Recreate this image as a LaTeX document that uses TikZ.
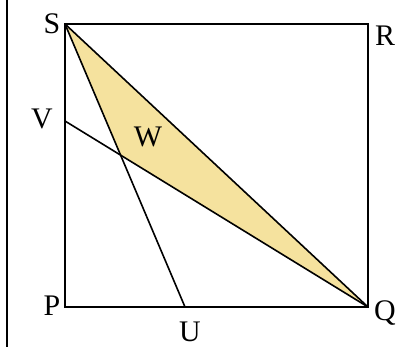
\documentclass[tikz,border=0pt]{standalone}
\usepackage{fontspec}
\setmainfont{Liberation Serif}
\usetikzlibrary{intersections}
\begin{document}
\begin{tikzpicture}[x=1bp,y=-1bp,
  edge/.style={line width=1.6bp,black},
  lbl/.style={font=\fontsize{30}{30}\selectfont,inner sep=0pt}]
\useasboundingbox (0,0) rectangle (398,347);
\draw[line width=2bp] (7,0) -- (7,347);
\coordinate (S) at (65,24);
\coordinate (R) at (368,24);
\coordinate (Q) at (368,307);
\coordinate (P) at (65,307);
\coordinate (V) at (65,121);
\coordinate (U) at (185,307);
\path[name path=su] (S) -- (U);
\path[name path=vq] (V) -- (Q);
\path[name intersections={of=su and vq, by=W}];
\fill[fill={rgb,255:red,245;green,226;blue,158}] (S) -- (W) -- (Q) -- cycle;
\draw[edge] (S) -- (R) -- (Q) -- (P) -- cycle;
\draw[edge] (S) -- (U);
\draw[edge] (V) -- (Q);
\draw[edge] (S) -- (Q);
\node[lbl] (lS) at (52,24) {S};
\node[lbl] (lR) at (385,36) {R};
\node[lbl] (lV) at (42,119) {V};
\node[lbl] (lW) at (148,137) {W};
\node[lbl] (lP) at (52,306) {P};
\node[lbl] (lQ) at (385,313) {Q};
\node[lbl] (lU) at (190,332) {U};
\end{tikzpicture}
\end{document}
